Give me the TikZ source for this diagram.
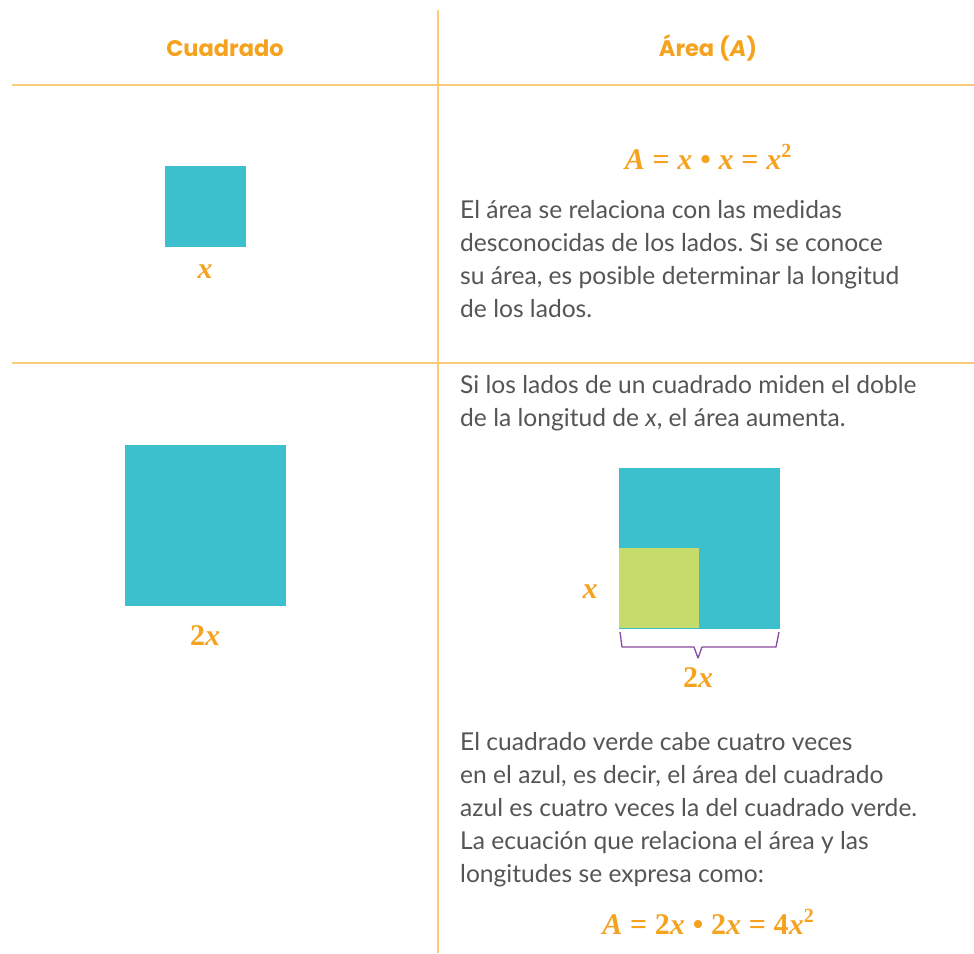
\documentclass[tikz,border=0pt]{standalone}
\usepackage{fontspec}
\setmainfont{Lato}
\newfontfamily\headf{Poppins}
\newfontfamily\mathf{Liberation Serif}
\definecolor{orng}{HTML}{F5A31E}
\definecolor{rule}{HTML}{FBCB7C}
\definecolor{tealc}{HTML}{3CC0CD}
\definecolor{greenc}{HTML}{C5DC6A}
\definecolor{purp}{HTML}{8A4A9E}
\definecolor{bodyc}{HTML}{555555}
\frenchspacing
\tikzset{
  gridline/.style={draw=rule, line width=1.2pt},
  header/.style={text=orng, font=\headf\bfseries\fontsize{22.5}{28}\selectfont},
  formula/.style={text=orng, font=\mathf\bfseries\fontsize{30}{32}\selectfont},
  body/.style={text=bodyc, font=\fontsize{24.6}{33}\selectfont, align=left, anchor=north west, inner sep=0pt},
  sq/.style={fill=tealc, draw=none, inner sep=0pt},
  gsq/.style={fill=greenc, draw=none, inner sep=0pt},
  bracec/.style={draw=purp, line width=1.3pt, line join=round}
}
\newcommand{\vx}{\textit{x}}
\newcommand{\sqr}{\raisebox{0.42em}{\fontsize{20}{20}\selectfont 2}}
\newcommand{\eqs}{\hspace{0.26em}=\hspace{0.26em}}
\newcommand{\dts}{\hspace{0.26em}•\hspace{0.26em}}
\begin{document}
\begin{tikzpicture}[x=1pt,y=-1pt]
\useasboundingbox[fill=white] (0,0) rectangle (974,953);
% grid
\coordinate (vt) at (438,10);
\coordinate (vb) at (438,953);
\coordinate (h1l) at (12,85);
\coordinate (h1r) at (974,85);
\coordinate (h2l) at (12,363);
\coordinate (h2r) at (974,363);
\draw[gridline] (vt) -- (vb);
\draw[gridline] (h1l) -- (h1r);
\draw[gridline] (h2l) -- (h2r);
% headers
\node[header] (hc) at (225,48) {Cuadrado};
\node[header] (ha) at (708,48) {Área (\textit{A})};
% row 1
\node[sq, minimum size=81pt] (sq1) at (205.5,206.5) {};
\node[formula] (lx1) at (205,272) {\vx};
\node[formula] (f1) at (708,157) {\textit{A}\eqs\vx\dts\vx\eqs\vx\sqr};
\node[body] (p1) at (460,200) {El área se relaciona con las medidas\\desconocidas de los lados. Si se conoce\\su área, es posible determinar la longitud\\de los lados.};
% row 2
\node[sq, minimum size=161pt] (sq2) at (205.5,525.5) {};
\node[formula] (lx2) at (205,636) {2\vx};
\node[body] (p2) at (460,375) {Si los lados de un cuadrado miden el doble\\de la longitud de \textit{x}, el área aumenta.};
\node[sq, minimum size=161pt] (sq3) at (699.5,548) {};
\node[gsq, minimum size=80pt] (sq4) at (659,588) {};
\node[formula] (lx3) at (590,592) {\vx};
\coordinate (b1) at (620,632);
\coordinate (b2) at (622,647);
\coordinate (b3) at (694,647);
\coordinate (b4) at (698,658);
\coordinate (b5) at (702,647);
\coordinate (b6) at (776,647);
\coordinate (b7) at (779,632);
\draw[bracec] (b1) -- (b2) -- (b3) -- (b4) -- (b5) -- (b6) -- (b7);
\node[formula] (lx4) at (698,678) {2\vx};
\node[body] (p3) at (460,732) {El cuadrado verde cabe cuatro veces\\en el azul, es decir, el área del cuadrado\\azul es cuatro veces la del cuadrado verde.\\La ecuación que relaciona el área y las\\longitudes se expresa como:};
\node[formula] (f2) at (708,922) {\textit{A}\eqs2\vx\dts2\vx\eqs4\vx\sqr};
\end{tikzpicture}
\end{document}
